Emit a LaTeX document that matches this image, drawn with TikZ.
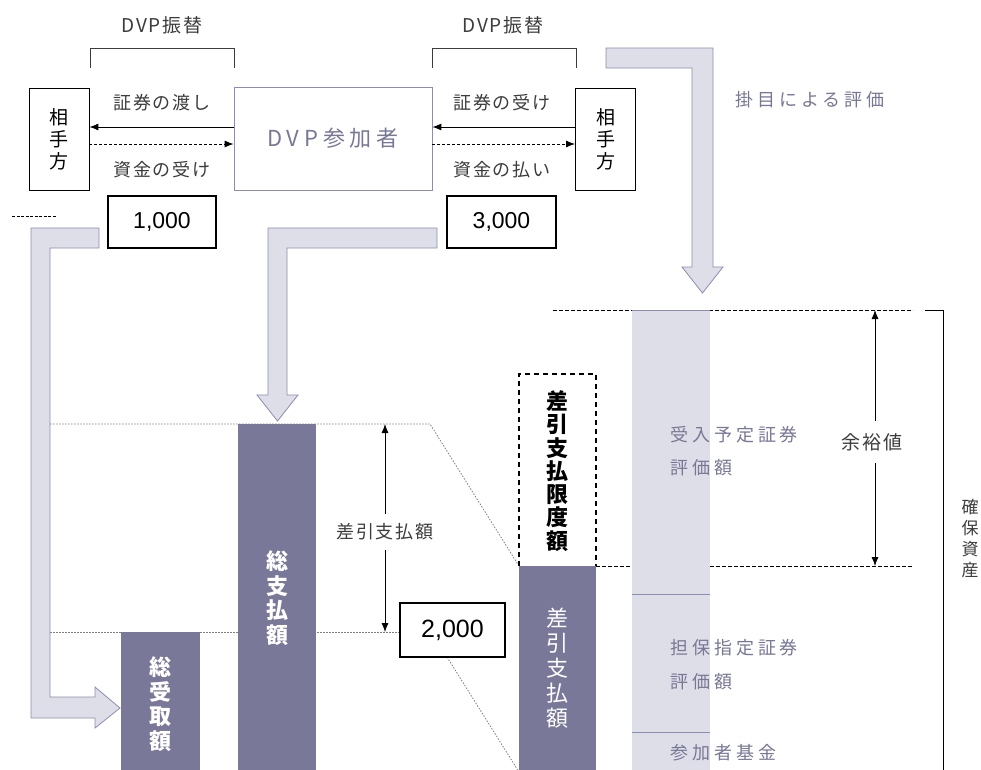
\documentclass[tikz,border=0pt]{standalone}
\usepackage{fontspec}
\setmainfont{Noto Sans CJK JP}
\newfontfamily\numfont{Liberation Sans}
\newfontfamily\lsfont[LetterSpace=22]{Noto Sans CJK JP}
\newfontfamily\lssmall[LetterSpace=10]{Noto Sans CJK JP}
\usetikzlibrary{arrows.meta}
\definecolor{darkbar}{RGB}{122,120,152}
\definecolor{lightbar}{RGB}{222,222,232}
\definecolor{lavline}{RGB}{140,140,178}
\definecolor{lavtext}{RGB}{120,120,150}
\definecolor{txtgray}{RGB}{60,60,60}
\tikzset{
  plain/.style={inner sep=0pt, text=txtgray, font=\lssmall\fontsize{18}{20}\selectfont},
  lavlabel/.style={inner sep=0pt, text=lavtext, font=\lsfont\fontsize{18}{20}\selectfont},
  cpbox/.style={draw=black, line width=0.8pt, minimum width=60pt, minimum height=102pt, inner sep=0pt, align=center, font=\fontsize{19}{22}\selectfont},
  numbox/.style={draw=black, line width=1.2pt, inner sep=0pt, font=\numfont},
  bigarrow/.style={fill=lightbar, draw=lavline, line width=0.8pt},
  vtext/.style={inner sep=0pt, align=center, text=white},
  greydot/.style={draw=gray, line width=0.8pt, dash pattern=on 1.5pt off 1.5pt},
  blackdash/.style={draw=black, line width=0.8pt, dash pattern=on 4pt off 2pt},
  dimarrow/.style={draw=black, line width=0.8pt, {Latex[length=9pt,width=7pt]}-{Latex[length=9pt,width=7pt]}},
  flowsolid/.style={draw=black, line width=0.9pt, -{Latex[length=9pt,width=7pt]}},
  flowdash/.style={draw=black, line width=0.9pt, dash pattern=on 3pt off 2pt, -{Latex[length=9pt,width=7pt]}}
}
\begin{document}
\begin{tikzpicture}[x=1pt,y=-1pt]
\useasboundingbox (0,0) rectangle (981,769);
\fill[white] (0,0) rectangle (981,769);

% --- top brackets and labels
\node[plain, font=\lssmall\fontsize{19}{21}\selectfont] (dvpL) at (162,25) {DVP振替};
\node[plain, font=\lssmall\fontsize{19}{21}\selectfont] (dvpR) at (503,25) {DVP振替};
\draw[txtgray, line width=0.9pt] (90,68) -- (90,48) -- (234,48) -- (234,68);
\draw[txtgray, line width=0.9pt] (432,68) -- (432,48) -- (576,48) -- (576,68);

% --- boxes
\node[cpbox] (cpL) at (59,139) {相\\手\\方};
\node[cpbox] (cpR) at (605.5,139) {相\\手\\方};
\node[draw=lavline, line width=0.8pt, minimum width=198pt, minimum height=103pt, inner sep=0pt,
      text=lavtext, font=\lsfont\fontsize{22}{24}\selectfont] (dvp) at (333,138.5) {DVP参加者};

% --- flows
\draw[flowsolid] (dvp.west |- 0,127) -- (cpL.east |- 0,127);
\draw[flowdash] (cpL.east |- 0,144) -- (dvp.west |- 0,144);
\draw[flowsolid] (cpR.west |- 0,127) -- (dvp.east |- 0,127);
\draw[flowdash] (dvp.east |- 0,144) -- (cpR.west |- 0,144);
\node[plain] (l1) at (162,103) {証券の渡し};
\node[plain] (l2) at (162,170) {資金の受け};
\node[plain] (l3) at (502,103) {証券の受け};
\node[plain] (l4) at (502,170) {資金の払い};

% --- number boxes
\node[numbox, minimum width=108pt, minimum height=52pt, font=\numfont\fontsize{23}{25}\selectfont] (n1) at (162,222) {1,000};
\node[numbox, minimum width=109pt, minimum height=52pt, font=\numfont\fontsize{23}{25}\selectfont] (n3) at (501.5,222) {3,000};

\draw[black, line width=0.6pt, dash pattern=on 3pt off 1.5pt] (12,216) -- (57,216);

% --- big hollow arrows
\draw[bigarrow] (99,228) -- (31,228) -- (31,718) -- (95,718) -- (95,728) -- (120,708) -- (95,687) -- (95,697) -- (50,697) -- (50,248) -- (99,248) -- cycle;
\draw[bigarrow] (437,228) -- (268,228) -- (268,395) -- (257,395) -- (277.5,421) -- (298,395) -- (287,395) -- (287,248) -- (437,248) -- cycle;
\draw[bigarrow] (606,48) -- (713,48) -- (713,267) -- (723,267) -- (702.5,293) -- (682,267) -- (692,267) -- (692,68) -- (606,68) -- cycle;
\node[lavlabel] (kake) at (810,100) {掛目による評価};

% --- grey dotted guide lines
\draw[greydot] (50,424) -- (430,424) -- (519,566);
\draw[greydot] (50,632) -- (400,632);
\draw[greydot] (447,657) -- (519,772);

% --- black dashed guide lines
\draw[blackdash] (553,310) -- (913,310);
\draw[blackdash] (596,566) -- (913,566);

% --- light bar (collateral)
\fill[lightbar] (632,310) rectangle (710,780);
\draw[lavline, line width=0.8pt] (632,310) -- (710,310);
\draw[lavline, line width=0.8pt] (632,594) -- (710,594);
\draw[lavline, line width=0.8pt] (632,732) -- (710,732);
\node[lavlabel, anchor=west] (t1) at (670,435) {受入予定証券};
\node[lavlabel, anchor=west] (t2) at (670,468) {評価額};
\node[lavlabel, anchor=west] (t3) at (670,648) {担保指定証券};
\node[lavlabel, anchor=west] (t4) at (670,682) {評価額};
\node[lavlabel, anchor=west] (t5) at (670,753) {参加者基金};

% --- dark bars
\fill[darkbar] (121,632) rectangle (200,780);
\fill[darkbar] (238,424) rectangle (316,780);
\fill[darkbar] (519,566) rectangle (596,780);
\node[vtext, font=\bfseries\fontsize{22}{24.7}\selectfont] (b1) at (160.5,704) {総\\受\\取\\額};
\node[vtext, font=\bfseries\fontsize{22}{24.7}\selectfont] (b2) at (277,598) {総\\支\\払\\額};
\node[vtext, font=\fontsize{22}{25}\selectfont] (b3) at (557.5,668) {差\\引\\支\\払\\額};

% --- dashed limit box
\draw[black, line width=1.6pt, dash pattern=on 5pt off 4pt] (519,566) -- (519,374) -- (596,374) -- (596,566);
\node[inner sep=0pt, align=center, font=\bfseries\fontsize{22}{23.3}\selectfont] (lim) at (557.5,471) {差\\引\\支\\払\\限\\度\\額};

% --- 2,000 box
\node[numbox, fill=white, minimum width=105pt, minimum height=54pt, font=\numfont\fontsize{25}{27}\selectfont] (n2) at (452.5,630) {2,000};

% --- dimension arrows
\coordinate (d1a) at (385,424);
\coordinate (d1b) at (385,632);
\draw[dimarrow] (d1a) -- (d1b);
\node[plain, fill=white, inner ysep=10pt, inner xsep=2pt] (dl1) at (385,532) {差引支払額};
\coordinate (d2a) at (875,310);
\coordinate (d2b) at (875,566);
\draw[dimarrow] (d2a) -- (d2b);
\node[plain, fill=white, inner ysep=12pt, inner xsep=2pt, font=\lssmall\fontsize{19}{21}\selectfont] (dl2) at (872,442) {余裕値};

% --- right bracket
\draw[black, line width=0.9pt] (925,310) -- (943,310) -- (943,780);
\node[inner sep=0pt, align=center, text=txtgray, font=\fontsize{17}{21}\selectfont] (kakuho) at (970,539) {確\\保\\資\\産};
\end{tikzpicture}
\end{document}
